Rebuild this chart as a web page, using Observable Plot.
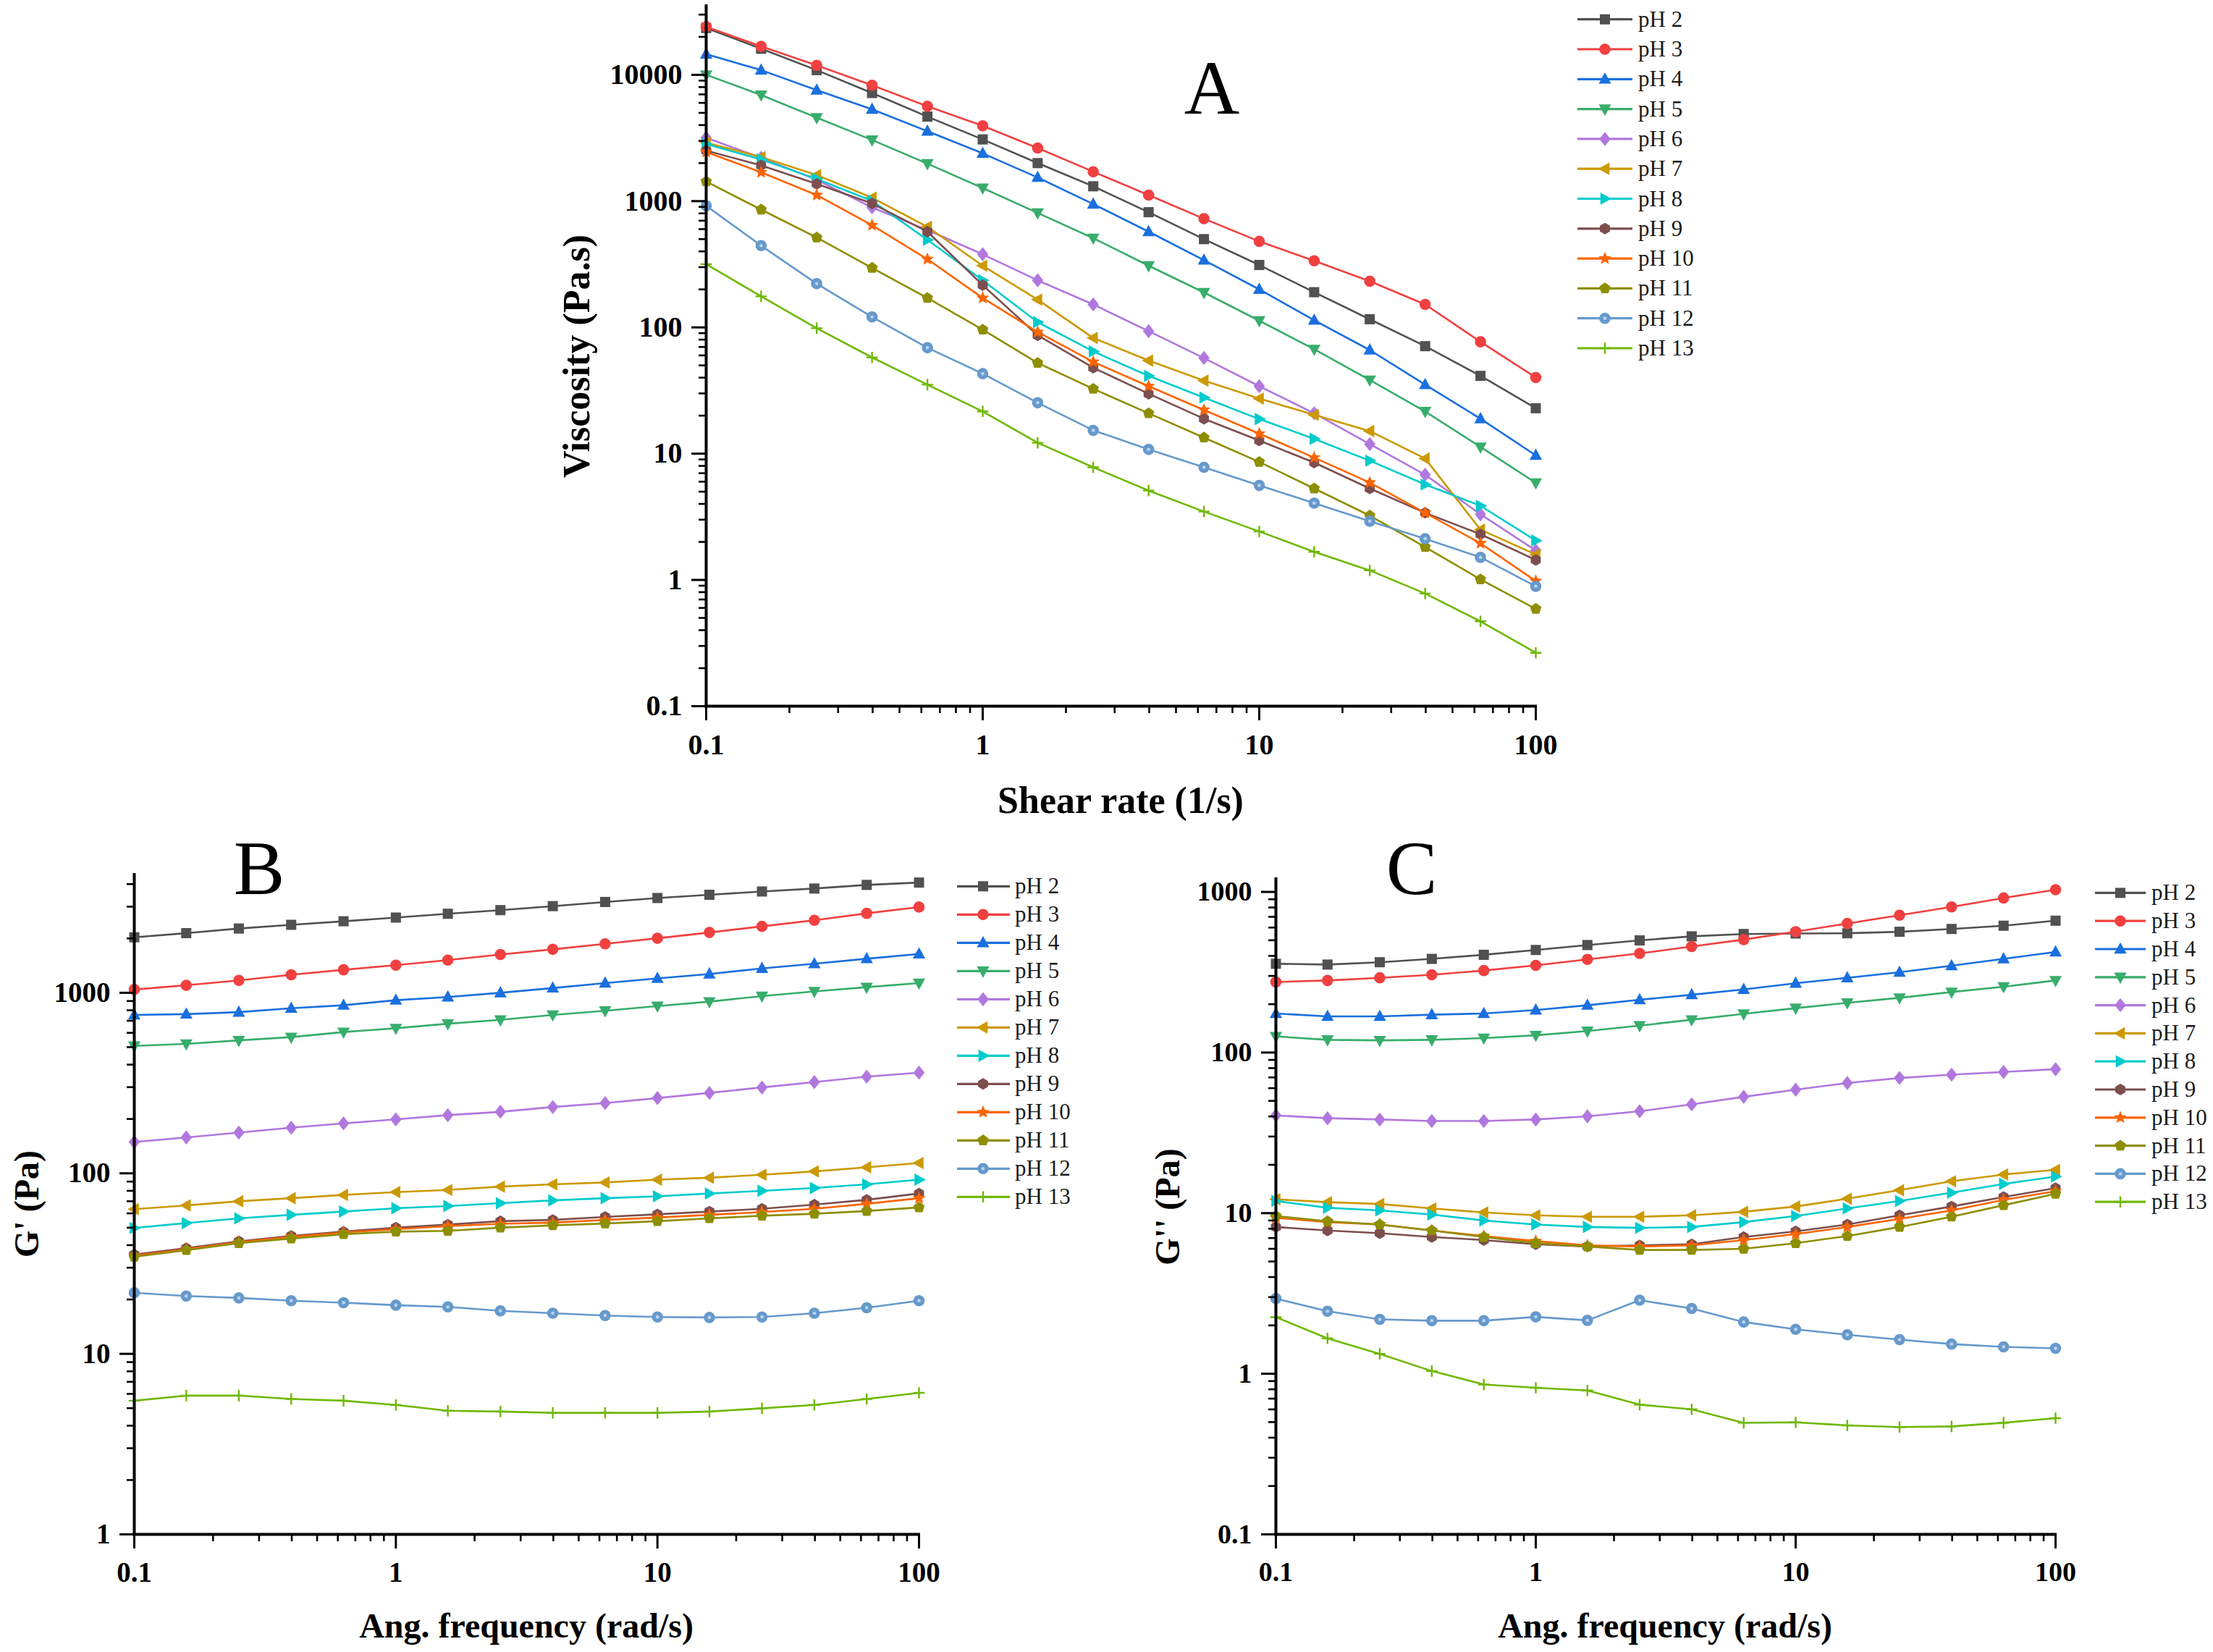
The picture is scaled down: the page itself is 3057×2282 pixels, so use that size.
<!DOCTYPE html>
<html><head><meta charset="utf-8">
<script src="https://cdn.jsdelivr.net/npm/d3@7"></script>
<script src="https://cdn.jsdelivr.net/npm/@observablehq/plot@0.6"></script>
<style>
html,body{margin:0;padding:0;background:#fff;}
#page{position:relative;width:3057px;height:2282px;background:#fff;overflow:hidden;}
</style></head><body><div id="page"></div>
<script>
// ---------- data ----------
const seriesNames = ["pH 2","pH 3","pH 4","pH 5","pH 6","pH 7","pH 8","pH 9","pH 10","pH 11","pH 12","pH 13"];
const seriesColors = ["#515151","#F14040","#1A6FDF","#37AD6B","#B177DE","#CC9900","#00CBCC","#7D4E4E","#FB6501","#8E8E00","#6699CC","#6FB802"];

const shearRate = [0.1,0.158,0.251,0.398,0.631,1,1.58,2.51,3.98,6.31,10,15.8,25.1,39.8,63.1,100];
const angFrequency = [0.1,0.158,0.251,0.398,0.631,1,1.58,2.51,3.98,6.31,10,15.8,25.1,39.8,63.1,100];

// Panel A: viscosity (Pa.s), one row per series
const viscosity = [
  [23500,16100,10900,7180,4670,3080,2000,1310,817,500,312,190,116,71,41.3,22.9],
  [24000,16800,11900,8280,5640,3950,2630,1710,1117,726,480,337,232,152,76.9,40.1],
  [14600,10900,7570,5340,3580,2390,1540,947,573,341,200,114,66.2,35.2,18.9,9.7],
  [10000,6930,4580,3050,1980,1270,807,509,308,189,113,67.1,38.3,21.6,11.3,5.87],
  [3180,2200,1475,891,590,379,236,152,93.4,57.2,34.2,20.9,11.9,6.8,3.31,1.71],
  [2910,2230,1610,1065,626,308,166,82.5,54.6,37.9,27.3,20.3,15.1,9.15,2.5,1.59],
  [2830,2140,1500,1004,494,236,110,64.5,41.3,27.8,18.8,13.1,8.8,5.7,3.86,2.05],
  [2510,1920,1370,958,573,216,86.5,47.9,29.8,18.9,12.7,8.5,5.3,3.4,2.3,1.44],
  [2450,1690,1117,644,347,171,91.8,53.3,34.2,22.2,14.4,9.3,5.9,3.4,1.95,0.98],
  [1430,857,515,296,171,96,52.3,32.6,20.9,13.4,8.6,5.3,3.23,1.82,1.01,0.59],
  [919,444,222,121,69,43,25.3,15.3,10.8,7.8,5.6,4.06,2.92,2.12,1.51,0.89],
  [317,176,98.5,57.8,35.2,21.6,12.2,7.8,5.1,3.48,2.42,1.67,1.19,0.78,0.47,0.265]
];
// Panel B: G' (Pa)
const storageModulus = [
  [2030,2140,2270,2380,2490,2610,2740,2870,3020,3185,3350,3490,3640,3780,3960,4080],
  [1043,1100,1172,1258,1341,1423,1517,1629,1741,1868,2004,2158,2333,2522,2755,2986],
  [754,762,781,821,853,910,948,1000,1062,1132,1202,1271,1365,1448,1544,1640],
  [508,521,545,568,606,636,674,708,754,795,844,893,959,1018,1074,1132],
  [149,158,168,179,189,199,210,219,233,245,261,279,299,320,343,361],
  [63.3,66.4,70,72.8,75.9,78.7,80.9,84.4,86.9,89,92.2,94.5,98.2,102.5,108,114],
  [49.8,53,56.3,58.9,61.4,64.1,65.9,68.3,70.8,72.8,74.6,77.3,80,82.9,86.9,92.2],
  [35.5,38.5,42,45,47.5,50,52,54.3,55.2,57.3,59.3,61.4,63.6,67.1,71.3,77.3],
  [35,38,41.5,44.5,47,49,51,52.5,53.3,55.2,56.9,58.9,61,63.6,67.8,72.8],
  [34.5,37.5,41,43.5,46,47.5,48,50,51.5,52.7,54.3,56.3,58.2,59.7,61.8,64.7],
  [21.8,20.9,20.4,19.7,19.2,18.6,18.2,17.3,16.8,16.3,16.0,15.9,16.0,16.8,18.0,19.7],
  [5.5,5.87,5.87,5.62,5.5,5.21,4.84,4.79,4.71,4.71,4.71,4.79,4.99,5.21,5.62,6.08]
];
// Panel C: G'' (Pa)
const lossModulus = [
  [357,353,365,383,406,435,467,499,529,547,551,553,565,588,616,662],
  [275,281,292,305,324,349,380,414,457,505,565,636,716,807,917,1032],
  [175,168,168,172,175,184,197,213,229,247,270,292,316,347,383,423],
  [126,120,119,120,123,128,136,147,160,174,189,204,219,238,257,281],
  [40.6,39.0,38.3,37.5,37.5,38.3,40.1,43.1,47.6,53,58.7,64.6,69.4,72.8,75.7,78.8],
  [12.2,11.7,11.4,10.7,10.1,9.7,9.5,9.5,9.7,10.2,11.0,12.3,13.9,15.8,17.4,18.6],
  [11.9,10.8,10.4,9.8,9.0,8.5,8.2,8.1,8.2,8.8,9.6,10.7,11.9,13.4,15.2,16.9],
  [8.2,7.8,7.5,7.1,6.8,6.4,6.2,6.3,6.4,7.1,7.7,8.5,9.7,11.0,12.6,14.3],
  [9.35,8.8,8.5,7.8,7.2,6.7,6.3,6.2,6.3,6.8,7.4,8.2,9.2,10.4,12.1,13.7],
  [9.6,8.9,8.5,7.8,7.1,6.5,6.2,5.9,5.9,6.0,6.5,7.2,8.2,9.5,11.2,13.2],
  [2.94,2.45,2.18,2.14,2.14,2.26,2.15,2.87,2.55,2.10,1.89,1.75,1.63,1.53,1.47,1.44],
  [2.25,1.66,1.33,1.04,0.857,0.818,0.787,0.642,0.601,0.495,0.498,0.477,0.466,0.47,0.495,0.529]
];

const ticksA_x = [0.1,1,10,100];
const ticksA_y = [0.1,1,10,100,1000,10000];
const ticksB_y = [1,10,100,1000];
const ticksC_y = [0.1,1,10,100,1000];

// ---------- symbols ----------
const F = "'Liberation Serif','Times New Roman',serif";
const R = s => Math.sqrt(s / Math.PI);
function poly(c, pts){ c.moveTo(pts[0][0], pts[0][1]); for (let i = 1; i < pts.length; i++) c.lineTo(pts[i][0], pts[i][1]); c.closePath(); }
function ngon(n, r, rot){ const p=[]; for(let i=0;i<n;i++){const a=rot+i*2*Math.PI/n; p.push([r*Math.cos(a), r*Math.sin(a)]);} return p; }
const symbols = [
  {draw(c,s){const r=R(s)*0.9; poly(c,[[-r,-r],[r,-r],[r,r],[-r,r]]);}},
  {draw(c,s){const r=R(s); c.moveTo(r,0); c.arc(0,0,r,0,2*Math.PI); c.closePath();}},
  {draw(c,s){const r=R(s); poly(c,[[0,-1.2*r],[1.1*r,0.8*r],[-1.1*r,0.8*r]]);}},
  {draw(c,s){const r=R(s); poly(c,[[0,1.2*r],[1.1*r,-0.8*r],[-1.1*r,-0.8*r]]);}},
  {draw(c,s){const r=R(s); poly(c,[[0,-1.25*r],[r,0],[0,1.25*r],[-r,0]]);}},
  {draw(c,s){const r=R(s); poly(c,[[-1.2*r,0],[0.8*r,-1.1*r],[0.8*r,1.1*r]]);}},
  {draw(c,s){const r=R(s); poly(c,[[1.2*r,0],[-0.8*r,-1.1*r],[-0.8*r,1.1*r]]);}},
  {draw(c,s){const r=R(s)*1.02; poly(c, ngon(6, r, -Math.PI/2));}},
  {draw(c,s){const r=R(s)*1.2; const p=[]; for(let i=0;i<10;i++){const a=-Math.PI/2+i*Math.PI/5; const rr=i%2?r*0.45:r; p.push([rr*Math.cos(a), rr*Math.sin(a)]);} poly(c,p);}},
  {draw(c,s){const r=R(s)*1.05; poly(c, ngon(5, r, -Math.PI/2));}},
  {draw(c,s){const r=R(s); c.moveTo(r,0); c.arc(0,0,r,0,2*Math.PI); c.closePath();}},
  {draw(c,s){const a=R(s)*1.0, t=1.2; poly(c,[[-t,-a],[t,-a],[t,-t],[a,-t],[a,t],[t,t],[t,a],[-t,a],[-t,t],[-a,t],[-a,-t],[-t,-t]]);}}
];
const DOT_R = 7.8;
const CENTER_FILL = "#b9d1ec";

// ---------- helpers ----------
function rowsFrom(xs, table){
  const out = [];
  table.forEach((vals, s) => vals.forEach((v, i) => out.push({s, x: xs[i], y: v})));
  return out;
}
function seriesMarks(rows){
  const m = [];
  for (let s = 0; s < seriesNames.length; s++){
    const d = rows.filter(r => r.s === s);
    m.push(Plot.line(d, {x: "x", y: "y", stroke: seriesColors[s], strokeWidth: 2.6}));
    m.push(Plot.dot(d, {x: "x", y: "y", r: DOT_R, symbol: symbols[s], fill: seriesColors[s], stroke: "none"}));
    if (s === 10) m.push(Plot.dot(d, {x: "x", y: "y", r: 2.4, fill: CENTER_FILL, stroke: "none"}));
  }
  return m;
}
function axisMarks(xDom, yDom, xMajor, yMajor, fs){
  const xMinor = d3.scaleLog().domain(xDom).ticks().filter(v => !xMajor.includes(v));
  const yMinor = d3.scaleLog().domain(yDom).ticks().filter(v => !yMajor.some(t => Math.abs(t - v) < 1e-9));
  const txt = {fontSize: fs, fontWeight: "bold", fontFamily: F, fill: "#000", stroke: "#000", label: null, tickFormat: d => String(d)};
  return [
    Plot.axisX(xMinor, {tickSize: 10, strokeWidth: 2.6, fill: "none", stroke: "#000", label: null}),
    Plot.axisY(yMinor, {tickSize: 10, strokeWidth: 2.6, fill: "none", stroke: "#000", label: null}),
    Plot.axisX(xMajor, {...txt, tickSize: 20, strokeWidth: 3, tickPadding: 18}),
    Plot.axisY(yMajor, {...txt, tickSize: 20, strokeWidth: 3, tickPadding: 13}),
    Plot.ruleX([xDom[0]], {stroke: "#000", strokeWidth: 4, strokeLinecap: "square"}),
    Plot.ruleY([yDom[0]], {stroke: "#000", strokeWidth: 4, strokeLinecap: "square"})
  ];
}
function panel(opts){
  const svg = Plot.plot({
    width: opts.width, height: opts.height,
    marginLeft: opts.ml, marginRight: opts.mr, marginTop: opts.mt, marginBottom: opts.mb,
    x: {type: "log", domain: opts.xDom},
    y: {type: "log", domain: opts.yDom},
    style: {background: "transparent", overflow: "visible", fontFamily: F},
    marks: [
      ...seriesMarks(opts.rows),
      ...axisMarks(opts.xDom, opts.yDom, opts.xMajor, opts.yMajor, opts.fs)
    ]
  });
  svg.style.position = "absolute";
  svg.style.left = opts.left + "px";
  svg.style.top = opts.top + "px";
  document.getElementById("page").appendChild(svg);
}

// ---------- panels ----------
panel({left: 700, top: 0, width: 1500, height: 1090, ml: 275, mr: 79, mt: 8, mb: 115,
  xDom: [0.1, 100], yDom: [0.1, 35000], xMajor: ticksA_x, yMajor: ticksA_y, fs: 40,
  rows: rowsFrom(shearRate, viscosity)});
panel({left: 0, top: 1150, width: 1330, height: 1080, ml: 185, mr: 61, mt: 58, mb: 111,
  xDom: [0.1, 100], yDom: [1, 4500], xMajor: ticksA_x, yMajor: ticksB_y, fs: 39,
  rows: rowsFrom(angFrequency, storageModulus)});
panel({left: 1500, top: 1150, width: 1400, height: 1080, ml: 262, mr: 61, mt: 64, mb: 111,
  xDom: [0.1, 100], yDom: [0.1, 1200], xMajor: ticksA_x, yMajor: ticksC_y, fs: 38,
  rows: rowsFrom(angFrequency, lossModulus)});

// ---------- overlay: titles, letters, legends ----------
const ov = d3.select("#page").append("svg")
  .attr("width", 3057).attr("height", 2282)
  .style("position", "absolute").style("left", "0px").style("top", "0px");

function label(txt, x, y, size, weight, rot){
  ov.append("text").text(txt)
    .attr("transform", `translate(${x},${y})` + (rot ? ` rotate(${rot})` : ""))
    .attr("text-anchor", "middle").attr("font-family", F)
    .attr("font-size", size).attr("font-weight", weight).attr("fill", "#000");
}
label("A", 1674, 157, 106, "normal");
label("B", 358, 1235, 106, "normal");
label("C", 1950, 1235, 106, "normal");
label("Viscosity (Pa.s)", 814, 492, 52, "bold", -90);
label("Shear rate (1/s)", 1548, 1123, 52, "bold");
label("G' (Pa)", 53, 1663, 48, "bold", -90);
label("G'' (Pa)", 1629, 1667, 48, "bold", -90);
label("Ang. frequency (rad/s)", 727, 2262, 48, "bold");
label("Ang. frequency (rad/s)", 2300, 2262, 48, "bold");

function legend(x0, x1, xm, xt, y0, dy){
  seriesNames.forEach((name, s) => {
    const y = y0 + s * dy;
    ov.append("line").attr("x1", x0).attr("x2", x1).attr("y1", y).attr("y2", y)
      .attr("stroke", seriesColors[s]).attr("stroke-width", 3.2);
    ov.append("path").attr("d", d3.symbol().type(symbols[s]).size(Math.PI * DOT_R * DOT_R)())
      .attr("transform", `translate(${xm},${y})`).attr("fill", seriesColors[s]);
    if (s === 10) ov.append("circle").attr("cx", xm).attr("cy", y).attr("r", 2.4).attr("fill", CENTER_FILL);
    ov.append("text").text(name).attr("x", xt).attr("y", y + 10)
      .attr("font-family", F).attr("font-size", 31).attr("fill", "#1a1a1a");
  });
}
legend(2179, 2255, 2217, 2263, 26.7, 41.3);
legend(1322, 1395, 1358, 1402, 1224.3, 39.0);
legend(2894, 2964, 2929, 2972, 1233.4, 38.8);
</script>
</body></html>
